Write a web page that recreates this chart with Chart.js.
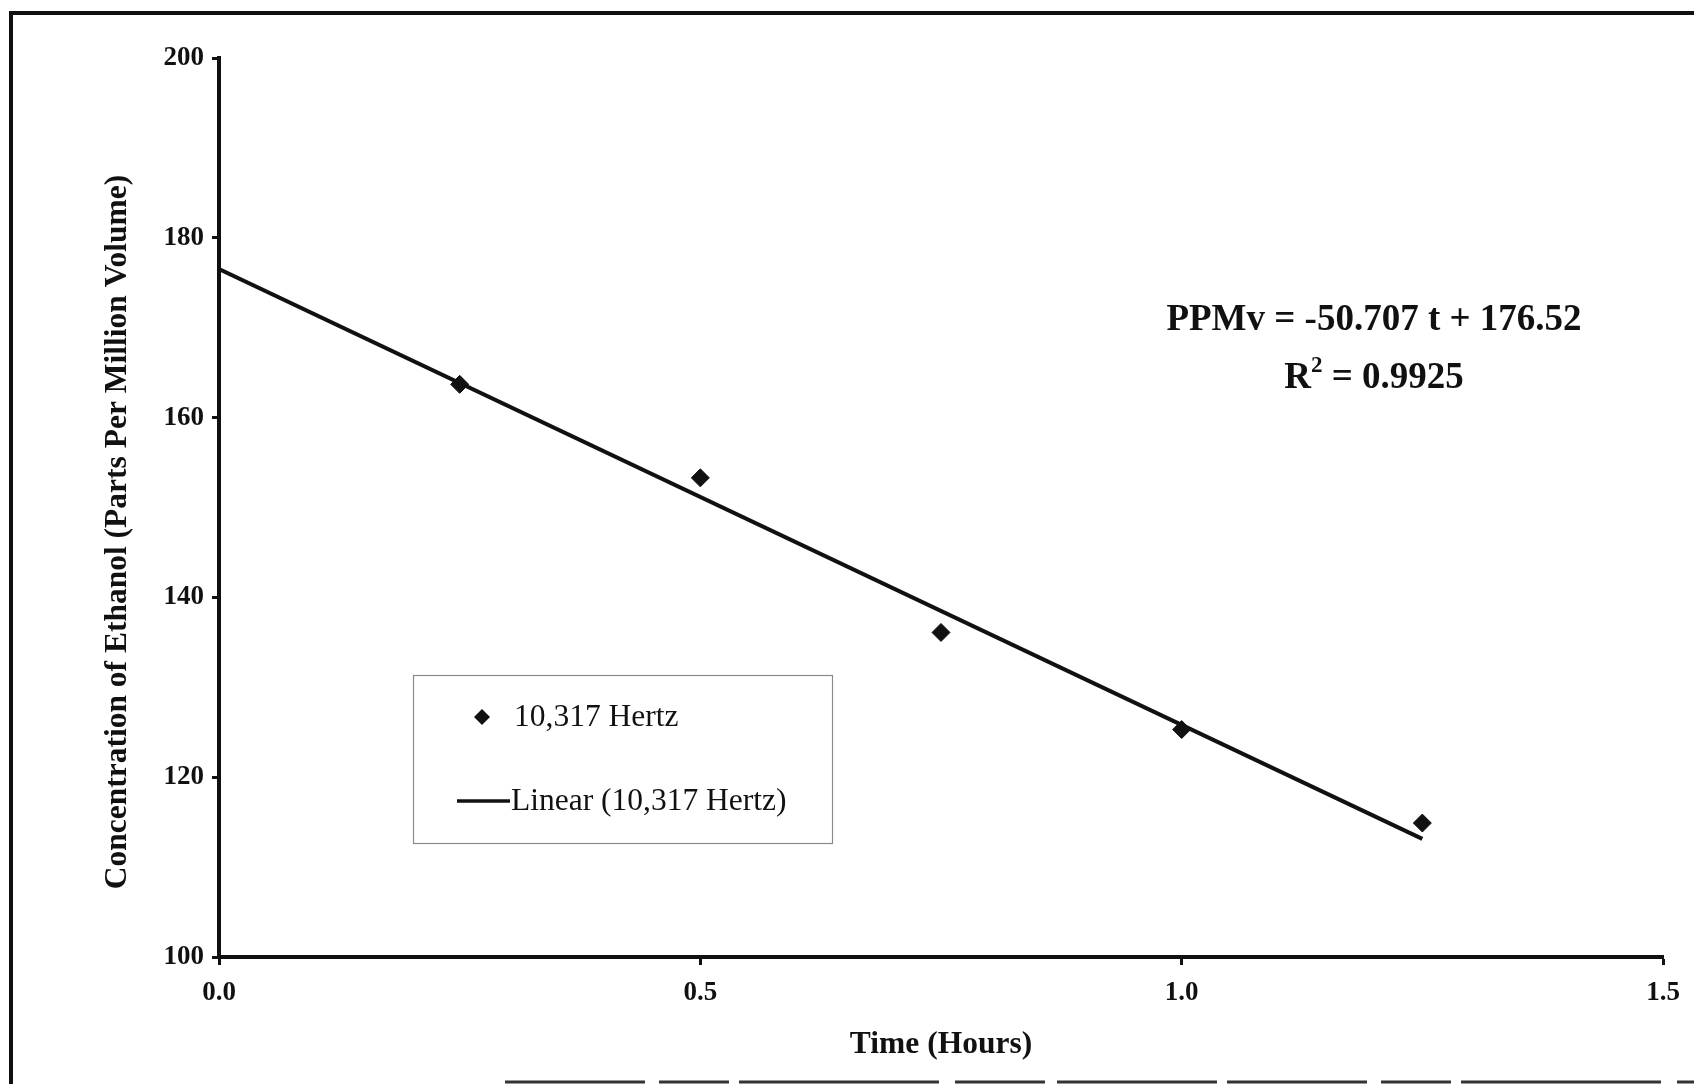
<!DOCTYPE html>
<html>
<head>
<meta charset="utf-8">
<title>Concentration of Ethanol vs Time</title>
<script src="https://cdn.jsdelivr.net/npm/chart.js@4.4.1/dist/chart.umd.min.js"></script>
<style>
  html, body { margin: 0; padding: 0; background: #fff; overflow: hidden; }
  #wrap { width: 1694px; height: 1084px; position: relative; }
  canvas { display: block; }
</style>
</head>
<body>
<div id="wrap"><canvas id="c" width="1694" height="1084"></canvas></div>
<script>
// Measured ethanol concentration over time
const timeHours = [0.25, 0.5, 0.75, 1.0, 1.25];
const ppmvEthanol = [163.7, 153.3, 136.1, 125.3, 114.9];

// Least-squares fit reported on the chart
const fitSlope = -50.707;
const fitIntercept = 176.52;
const fitR2 = '0.9925';

// Axis ticks
const xTicks = [0, 0.5, 1.0, 1.5];
const yTicks = [100, 120, 140, 160, 180, 200];

const seriesLabel = '10,317 Hertz';
const fitLabel = 'Linear (10,317 Hertz)';
const xTitle = 'Time (Hours)';
const yTitle = 'Concentration of Ethanol (Parts Per Million Volume)';

const INK = '#111';
const SERIF = '"Liberation Serif", "Times New Roman", Times, serif';

const points = timeHours.map((t, i) => ({ x: t, y: ppmvEthanol[i] }));
const fitEnds = [0, timeHours[timeHours.length - 1]];
const fitLine = fitEnds.map(t => ({ x: t, y: fitSlope * t + fitIntercept }));

// Frame, rotated y title, equation and legend box
const decorations = {
  id: 'decorations',
  afterDraw(chart) {
    const ctx = chart.ctx;
    ctx.save();

    // outer frame
    ctx.strokeStyle = INK;
    ctx.lineWidth = 4;
    ctx.beginPath();
    ctx.moveTo(11, 1084);
    ctx.lineTo(11, 13);
    ctx.lineTo(1694, 13);
    ctx.stroke();
    ctx.lineWidth = 3;
    ctx.strokeStyle = '#333';
    ctx.setLineDash([140, 14, 70, 10, 200, 16, 90, 12, 160, 10]);
    ctx.beginPath();
    ctx.moveTo(505, 1082);
    ctx.lineTo(1694, 1082);
    ctx.stroke();
    ctx.setLineDash([]);

    // y axis title
    ctx.fillStyle = INK;
    ctx.font = 'bold 31.5px ' + SERIF;
    ctx.textAlign = 'center';
    ctx.textBaseline = 'middle';
    ctx.save();
    ctx.translate(118, 532);
    ctx.rotate(-Math.PI / 2);
    ctx.fillText(yTitle, 0, 0);
    ctx.restore();

    // regression equation
    const eqX = 1374;
    ctx.font = 'bold 37px ' + SERIF;
    ctx.textBaseline = 'alphabetic';
    ctx.textAlign = 'center';
    const eqText = 'PPMv = ' + fitSlope.toFixed(3) + ' t + ' + fitIntercept.toFixed(2);
    ctx.fillText(eqText, eqX, 330);

    const partR = 'R';
    const partRest = ' = ' + fitR2;
    ctx.font = 'bold 37px ' + SERIF;
    const wR = ctx.measureText(partR).width;
    const wRest = ctx.measureText(partRest).width;
    ctx.font = 'bold 23px ' + SERIF;
    const wSup = ctx.measureText('2').width;
    let sx = eqX - (wR + wSup + wRest) / 2;
    ctx.textAlign = 'left';
    ctx.font = 'bold 37px ' + SERIF;
    ctx.fillText(partR, sx, 388);
    ctx.font = 'bold 23px ' + SERIF;
    ctx.fillText('2', sx + wR, 372);
    ctx.font = 'bold 37px ' + SERIF;
    ctx.fillText(partRest, sx + wR + wSup, 388);

    // legend box
    ctx.strokeStyle = '#8a8a8a';
    ctx.lineWidth = 1.2;
    ctx.strokeRect(413.5, 675.5, 419, 168);

    ctx.fillStyle = INK;
    ctx.beginPath();
    ctx.moveTo(482, 709);
    ctx.lineTo(490, 717);
    ctx.lineTo(482, 725);
    ctx.lineTo(474, 717);
    ctx.closePath();
    ctx.fill();

    ctx.strokeStyle = INK;
    ctx.lineWidth = 3.5;
    ctx.beginPath();
    ctx.moveTo(457, 801);
    ctx.lineTo(510, 801);
    ctx.stroke();

    ctx.font = '31.5px ' + SERIF;
    ctx.textBaseline = 'middle';
    ctx.textAlign = 'left';
    ctx.fillText(chart.data.datasets[0].label, 514, 718);
    ctx.fillText(chart.data.datasets[1].label, 511, 802);

    ctx.restore();
  }
};

const tickFont = { family: SERIF, size: 27, weight: 'bold' };

new Chart(document.getElementById('c'), {
  type: 'scatter',
  data: {
    datasets: [
      {
        label: seriesLabel,
        data: points,
        pointStyle: 'rectRot',
        pointRadius: 9,
        pointHoverRadius: 9,
        backgroundColor: INK,
        borderColor: INK,
        borderWidth: 1
      },
      {
        type: 'line',
        label: fitLabel,
        data: fitLine,
        borderColor: INK,
        borderWidth: 4,
        pointRadius: 0,
        fill: false,
        tension: 0
      }
    ]
  },
  options: {
    responsive: false,
    animation: false,
    events: [],
    layout: { padding: { left: 101, top: 58, right: 31, bottom: 20 } },
    plugins: {
      legend: { display: false },
      tooltip: { enabled: false },
      title: { display: false }
    },
    scales: {
      x: {
        type: 'linear',
        min: xTicks[0],
        max: xTicks[xTicks.length - 1],
        afterBuildTicks: s => { s.ticks = xTicks.map(v => ({ value: v })); },
        afterFit: s => { s.height = 107; },
        ticks: {
          font: tickFont,
          color: INK,
          padding: 12,
          maxRotation: 0,
          callback: v => Number(v).toFixed(1)
        },
        grid: {
          display: true,
          drawOnChartArea: false,
          drawTicks: true,
          tickLength: 8,
          tickWidth: 3,
          tickColor: INK,
          color: INK
        },
        border: { display: true, color: INK, width: 4 },
        title: {
          display: true,
          text: xTitle,
          color: INK,
          font: { family: SERIF, size: 31.5, weight: 'bold' },
          padding: { top: 0, bottom: 0 }
        }
      },
      y: {
        type: 'linear',
        min: yTicks[0],
        max: yTicks[yTicks.length - 1],
        afterBuildTicks: s => { s.ticks = yTicks.map(v => ({ value: v })); },
        afterFit: s => { s.width = 118; },
        ticks: {
          font: tickFont,
          color: INK,
          padding: 8
        },
        grid: {
          display: true,
          drawOnChartArea: false,
          drawTicks: true,
          tickLength: 7,
          tickWidth: 3,
          tickColor: INK,
          color: INK
        },
        border: { display: true, color: INK, width: 4 }
      }
    }
  },
  plugins: [decorations]
});
</script>
</body>
</html>
